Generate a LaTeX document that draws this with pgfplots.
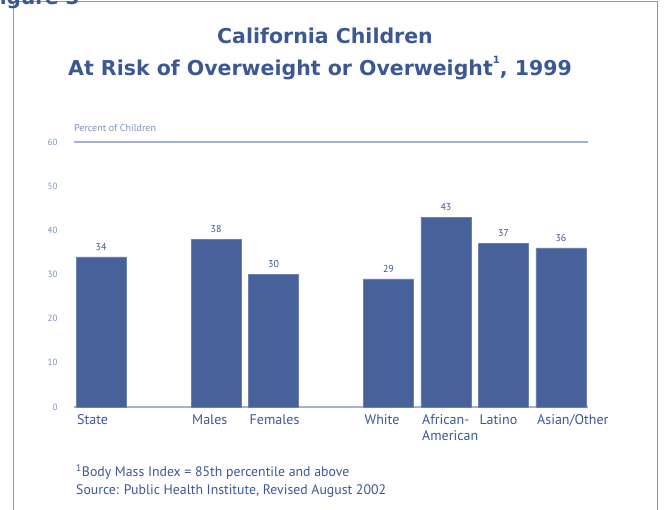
\documentclass[border=0pt]{standalone}
\usepackage{pgfplots}
\pgfplotsset{compat=1.18}
\usepackage{fontspec}
\setmainfont{PT Sans}
\newfontfamily\titlefont{DejaVu Sans}

\definecolor{barblue}{HTML}{47629A}
\definecolor{textblue}{HTML}{3B5894}
\definecolor{lightblue}{HTML}{7D90BE}
\definecolor{lineblue}{HTML}{A3B1D4}
\definecolor{frameblue}{HTML}{8797C4}

\begin{document}
\begin{tikzpicture}[x=1pt,y=1pt]
  \useasboundingbox (0,0) rectangle (672,510);
  \begin{scope}
    \clip (0,0) rectangle (672,510);
    % frame and cut-off figure caption
    \draw[frameblue, line width=1pt] (13,-10) -- (13,508) -- (657,508) -- (657,-10);
    \node[anchor=base west, inner sep=0, text=textblue, font=\titlefont\bfseries\fontsize{20}{24}\selectfont]
      at (-14,505) {Figure 3};
  \end{scope}

  % titles
  \node[text=textblue, font=\titlefont\bfseries\fontsize{20.5}{24}\selectfont] at (325,474) {California Children};
  \node[text=textblue, font=\titlefont\bfseries\fontsize{20.5}{24}\selectfont] at (320,442)
    {At Risk of Overweight or Overweight\raisebox{1.1ex}{\fontsize{10}{10}\selectfont 1}, 1999};

  \begin{axis}[
      scale only axis,
      width=514pt,
      height=265pt,
      at={(74pt,103pt)},
      anchor=south west,
      ybar,
      bar width=50pt,
      xmin=-0.47, xmax=8.47,
      ymin=0, ymax=60,
      ytick={0,10,...,60},
      xtick={0,2,3,5,6,7,8},
      xticklabels={State,Males,Females,White,{African-\\American},Latino,Asian/Other},
      axis x line*=bottom,
      axis y line*=left,
      x axis line style={draw=lineblue, line width=1.2pt, -},
      y axis line style={draw=none},
      tick style={draw=none},
      yticklabel style={font=\fontsize{9}{10}\selectfont, text=lightblue, xshift=-13pt},
      xticklabel style={font=\fontsize{14}{16}\selectfont, text=textblue, anchor=north west,
        align=left, inner sep=0pt, xshift=-24pt, yshift=-3pt},
      /pgf/number format/assume math mode=true,
      nodes near coords,
      every node near coord/.append style={font=\fontsize{10}{11}\selectfont, text=textblue, yshift=3pt},
      clip=false,
    ]
    \addplot[fill=barblue, draw=barblue!80!white] coordinates {
      (0,34) (2,38) (3,30) (5,29) (6,43) (7,37) (8,36)
    };
    \draw[lineblue, line width=1.2pt] (rel axis cs:0,1) -- (rel axis cs:1,1);
    \node[anchor=base west, inner sep=0, text=lightblue, font=\fontsize{10}{12}\selectfont]
      at (rel axis cs:0,1) [yshift=10pt] {Percent of Children};
  \end{axis}

  % footnotes
  \node[anchor=base west, inner sep=0, text=textblue, font=\fontsize{13.8}{16}\selectfont] at (76,33)
    {\textsuperscript{1}Body Mass Index = 85th percentile and above};
  \node[anchor=base west, inner sep=0, text=textblue, font=\fontsize{13.8}{16}\selectfont] at (76,15)
    {Source: Public Health Institute, Revised August 2002};
\end{tikzpicture}
\end{document}
